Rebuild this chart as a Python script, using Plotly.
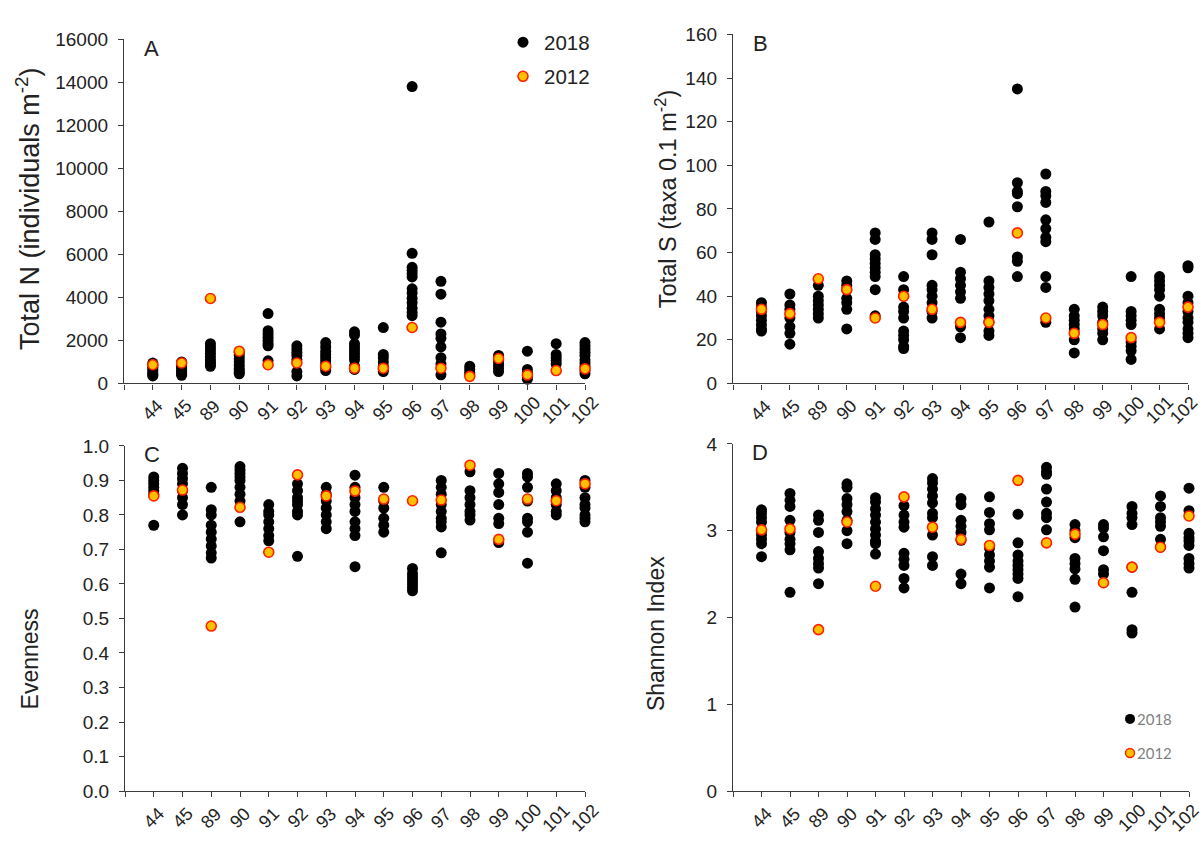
import plotly.graph_objects as go

# Sampling stations along the x axis
sites = ["44", "45", "89", "90", "91", "92", "93", "94", "95", "96",
         "97", "98", "99", "100", "101", "102"]

# A: total abundance (individuals m-2), replicate samples in 2018, single value in 2012
n_2018 = [
    [950, 850, 750, 650, 550, 450, 400, 350],
    [1000, 900, 800, 700, 600, 500, 450, 380],
    [1850, 1700, 1550, 1400, 1250, 1100, 1000, 900, 800],
    [1450, 1300, 1150, 1000, 850, 700, 600, 500, 450],
    [3250, 2450, 2300, 2150, 2000, 1850, 1750, 1050],
    [1750, 1600, 1450, 1300, 1100, 550, 350],
    [1900, 1700, 1500, 1350, 1200, 1050, 900, 750, 600],
    [2400, 2250, 1850, 1700, 1550, 1400, 1250, 1100, 800, 650],
    [2600, 1350, 1200, 1000, 800, 650, 550],
    [13800, 6050, 5400, 5250, 5100, 4950, 4400, 4200, 3950, 3750, 3500, 3300, 3150],
    [4750, 4150, 2850, 2300, 2100, 1700, 1200, 900, 400],
    [800, 650, 500, 400],
    [1300, 1150, 1000, 850, 700, 550],
    [1500, 650, 500, 350, 200],
    [1850, 1350, 1200, 1050, 900],
    [1900, 1750, 1600, 1450, 1300, 1100, 950, 800, 600, 450],
]
n_2012 = [870, 950, 3950, 1500, 870, 950, 800, 710, 710, 2600, 710, 330, 1160, 400, 600, 680]

# B: total taxa (taxa 0.1 m-2)
s_2018 = [
    [37, 35, 33, 31, 29, 27, 25, 24],
    [41, 36, 34, 30, 26, 23, 18],
    [45, 40, 38, 36, 34, 32, 30],
    [47, 45, 43, 39, 37, 34, 25],
    [69, 66, 59, 57, 55, 53, 51, 49, 43, 31],
    [49, 43, 40, 35, 33, 30, 24, 22, 20, 17, 16],
    [69, 66, 59, 45, 43, 40, 37, 33, 30],
    [66, 51, 48, 45, 42, 39, 26, 21],
    [74, 47, 44, 41, 38, 34, 31, 28, 24, 22],
    [135, 92, 88, 87, 81, 58, 56, 49],
    [96, 88, 86, 83, 75, 71, 67, 65, 49, 44, 28],
    [34, 31, 29, 27, 25, 20, 14],
    [35, 33, 31, 28, 25, 23, 20],
    [49, 33, 31, 29, 27, 19, 17, 15, 11],
    [49, 47, 45, 43, 40, 34, 32, 30, 25],
    [54, 53, 40, 37, 33, 30, 28, 25, 23, 21],
]
s_2012 = [34, 32, 48, 43, 30, 40, 34, 28, 28, 69, 30, 23, 27, 21, 28, 35]

# C: evenness
e_2018 = [
    [0.91, 0.90, 0.89, 0.88, 0.87, 0.86, 0.77],
    [0.935, 0.92, 0.905, 0.89, 0.87, 0.85, 0.83, 0.80],
    [0.88, 0.815, 0.80, 0.77, 0.75, 0.73, 0.71, 0.69, 0.675],
    [0.94, 0.93, 0.92, 0.91, 0.90, 0.88, 0.86, 0.84, 0.78],
    [0.83, 0.81, 0.80, 0.78, 0.76, 0.74, 0.725],
    [0.89, 0.87, 0.85, 0.84, 0.83, 0.81, 0.80, 0.68],
    [0.88, 0.86, 0.84, 0.82, 0.80, 0.78, 0.76],
    [0.915, 0.88, 0.85, 0.83, 0.81, 0.78, 0.76, 0.74, 0.65],
    [0.88, 0.84, 0.82, 0.79, 0.77, 0.75],
    [0.645, 0.63, 0.62, 0.61, 0.60, 0.59, 0.58],
    [0.90, 0.88, 0.86, 0.83, 0.81, 0.79, 0.78, 0.765, 0.69],
    [0.925, 0.87, 0.85, 0.83, 0.81, 0.80, 0.785],
    [0.92, 0.89, 0.865, 0.83, 0.79, 0.775, 0.72],
    [0.92, 0.91, 0.88, 0.84, 0.79, 0.78, 0.75, 0.66],
    [0.89, 0.87, 0.85, 0.83, 0.81, 0.80],
    [0.90, 0.88, 0.85, 0.83, 0.82, 0.80, 0.79, 0.78],
]
e_2012 = [0.855, 0.872, 0.478, 0.822, 0.692, 0.916, 0.855, 0.869, 0.846, 0.841,
          0.843, 0.944, 0.729, 0.846, 0.841, 0.89]

# D: Shannon index
h_2018 = [
    [3.24, 3.20, 3.15, 3.10, 3.00, 2.95, 2.90, 2.85, 2.70],
    [3.43, 3.35, 3.28, 3.12, 2.98, 2.90, 2.85, 2.78, 2.29],
    [3.18, 3.12, 2.98, 2.76, 2.68, 2.62, 2.57, 2.39],
    [3.54, 3.50, 3.37, 3.30, 3.22, 3.12, 3.00, 2.85],
    [3.38, 3.33, 3.25, 3.18, 3.10, 3.02, 2.95, 2.88, 2.85, 2.73],
    [3.29, 3.18, 3.10, 3.04, 2.74, 2.67, 2.60, 2.45, 2.34],
    [3.60, 3.55, 3.48, 3.40, 3.32, 3.20, 3.15, 2.95, 2.70, 2.60],
    [3.37, 3.30, 3.12, 3.05, 2.98, 2.89, 2.50, 2.39],
    [3.39, 3.21, 3.08, 3.01, 2.80, 2.72, 2.65, 2.58, 2.34],
    [3.19, 2.86, 2.72, 2.65, 2.60, 2.55, 2.50, 2.45, 2.24],
    [3.73, 3.68, 3.65, 3.48, 3.33, 3.20, 3.15, 3.01],
    [3.07, 3.00, 2.92, 2.68, 2.62, 2.56, 2.44, 2.12],
    [3.07, 3.03, 2.93, 2.77, 2.55, 2.50],
    [3.28, 3.20, 3.15, 3.07, 2.58, 2.29, 1.86, 1.82],
    [3.40, 3.28, 3.15, 3.10, 3.05, 2.90, 2.81],
    [3.49, 3.23, 2.97, 2.92, 2.88, 2.83, 2.68, 2.62, 2.57],
]
h_2012 = [3.01, 3.02, 1.86, 3.10, 2.36, 3.39, 3.04, 2.90, 2.83, 3.58, 2.86, 2.96,
          2.40, 2.58, 2.81, 3.17]

W, H = 1203, 843
FONT = "Liberation Sans, Arial, sans-serif"
INK = "#222222"
AXIS = "#3c3c3c"
ORANGE = "#FFC000"
RED = "#FF2000"
LABEL_SIZE = 18


def px_x(p):
    return p / W


def px_y(p):
    return 1 - p / H


# panel frames in pixels: (left, right, top, bottom), y range, dtick, tick format, letter, title
panels = [
    dict(box=(124, 585, 30, 383), yr=16000, dt=2000, fmt="d", letter="A",
         title="Total N (individuals m<sup>-2</sup>)", tx=28, ty=204, tsize=27,
         y18=n_2018, y12=n_2012),
    dict(box=(733, 1188, 25, 383), yr=160, dt=20, fmt="d", letter="B",
         title="Total S (taxa 0.1 m<sup>-2</sup>)", tx=666, ty=194, tsize=23.5,
         y18=s_2018, y12=s_2012),
    dict(box=(125, 585, 447, 801), yr=1.0, dt=0.1, fmt=".1f", letter="C",
         title="Evenness", tx=30, ty=666, tsize=23,
         y18=e_2018, y12=e_2012),
    dict(box=(733, 1189, 445, 801), yr=4, dt=1, fmt="d", letter="D",
         title="Shannon Index", tx=656, ty=640, tsize=23,
         y18=h_2018, y12=h_2012),
]

fig = go.Figure()
layout = {}
annotations = []
shapes = []

for i, p in enumerate(panels, start=1):
    xa = "x" if i == 1 else f"x{i}"
    ya = "y" if i == 1 else f"y{i}"
    left, right, top, bottom = p["box"]

    xs18, ys18 = [], []
    for k, vals in enumerate(p["y18"]):
        xs18 += [k + 1] * len(vals)
        ys18 += vals
    fig.add_trace(go.Scatter(
        x=xs18, y=ys18, mode="markers", name="2018", showlegend=False,
        xaxis=xa, yaxis=ya, cliponaxis=False,
        marker=dict(size=11, color="black", line=dict(width=0))))
    fig.add_trace(go.Scatter(
        x=list(range(1, len(sites) + 1)), y=p["y12"], mode="markers", name="2012",
        showlegend=False, xaxis=xa, yaxis=ya, cliponaxis=False,
        marker=dict(size=10, color=ORANGE, line=dict(width=1.6, color=RED))))

    xkey = "xaxis" if i == 1 else f"xaxis{i}"
    ykey = "yaxis" if i == 1 else f"yaxis{i}"
    layout[xkey] = dict(
        domain=[px_x(left), px_x(right)], anchor=ya, range=[0, len(sites)],
        tickmode="array", tickvals=list(range(0, len(sites) + 1)),
        showticklabels=False, ticks="outside", ticklen=5, tickwidth=1.2,
        tickcolor=AXIS, showline=True, linecolor=AXIS, linewidth=1.3,
        showgrid=False, zeroline=False, fixedrange=True)
    layout[ykey] = dict(
        domain=[px_y(bottom), px_y(top)], anchor=xa, range=[0, p["yr"]],
        tick0=0, dtick=p["dt"], tickformat=p["fmt"], ticks="outside", ticklen=5,
        tickwidth=1.2, tickcolor=AXIS, showline=True, linecolor=AXIS,
        linewidth=1.3, showgrid=False, zeroline=False, ticklabelstandoff=6,
        tickfont=dict(family=FONT, size=19, color=INK), fixedrange=True)

    # rotated station labels centred under each tick; the last one on the right
    # edge of the page is nudged inwards so it stays whole
    for k, s in enumerate(sites):
        shift = -4 if (k == len(sites) - 1 and right > W - 20) else 0
        annotations.append(dict(
            text=s, x=k + 1, y=0, xref=xa, yref=f"{ya} domain", yshift=-27,
            xshift=shift, textangle=-45, showarrow=False, xanchor="center",
            yanchor="middle", font=dict(family=FONT, size=LABEL_SIZE, color=INK)))

    # axis title
    annotations.append(dict(
        text=p["title"], x=px_x(p["tx"]), y=px_y(p["ty"]), xref="paper", yref="paper",
        textangle=-90, showarrow=False, xanchor="center", yanchor="middle",
        font=dict(family=FONT, size=p["tsize"], color=INK)))

    # panel letter
    annotations.append(dict(
        text=p["letter"], x=px_x(left + 27), y=px_y(top + 9), xref="paper", yref="paper",
        showarrow=False, xanchor="center", yanchor="middle",
        font=dict(family=FONT, size=22, color=INK)))


def legend_entry(cx, cy, r, label, fill, edge, ew, size, color, family, gap):
    shapes.append(dict(
        type="circle", xref="paper", yref="paper", xsizemode="pixel", ysizemode="pixel",
        xanchor=px_x(cx), yanchor=px_y(cy), x0=-r, x1=r, y0=-r, y1=r,
        fillcolor=fill, line=dict(color=edge, width=ew)))
    annotations.append(dict(
        text=label, x=px_x(cx + gap), y=px_y(cy), xref="paper", yref="paper",
        showarrow=False, xanchor="left", yanchor="middle",
        font=dict(family=family, size=size, color=color)))


# legend of panel A
legend_entry(523, 33, 5.5, "2018", "black", "black", 0, 20.5, INK, FONT, 19)
legend_entry(523, 68, 5, "2012", ORANGE, RED, 1.6, 20.5, INK, FONT, 19)
# legend of panel D
legend_entry(1130, 727, 5, "2018", "black", "black", 0, 15, "#7f7f7f", "Lato, sans-serif", 5)
legend_entry(1130, 762, 4.5, "2012", ORANGE, RED, 1.4, 15, "#7f7f7f", "Lato, sans-serif", 5)

fig.update_layout(
    width=W, height=H, margin=dict(l=0, r=0, t=0, b=0),
    paper_bgcolor="white", plot_bgcolor="white", showlegend=False,
    annotations=annotations, shapes=shapes, **layout)

fig.write_html("out.html")
